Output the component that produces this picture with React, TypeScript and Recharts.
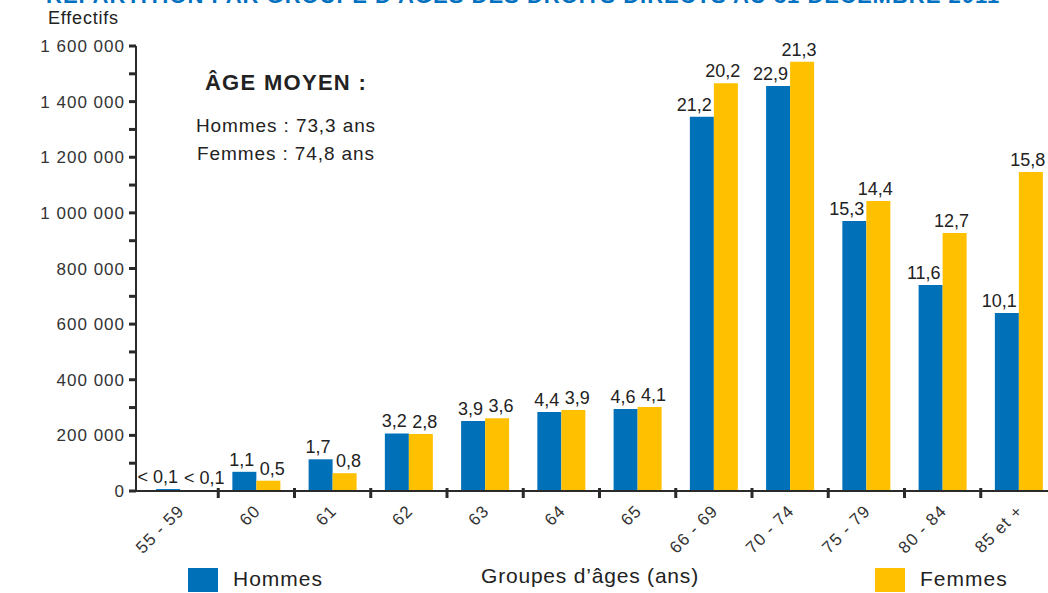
import React from 'react';
import { BarChart, Bar, XAxis, YAxis, LabelList } from 'recharts';

const categories = ['55 - 59', '60', '61', '62', '63', '64', '65', '66 - 69', '70 - 74', '75 - 79', '80 - 84', '85 et +'];
const hommes = [7000, 69000, 114000, 207000, 252000, 284000, 295000, 1346000, 1456000, 971000, 741000, 640000];
const femmes = [3000, 37000, 64000, 205000, 262000, 291000, 302000, 1466000, 1543000, 1043000, 928000, 1147000];
const hommesPct = ['< 0,1', '1,1', '1,7', '3,2', '3,9', '4,4', '4,6', '21,2', '22,9', '15,3', '11,6', '10,1'];
const femmesPct = ['< 0,1', '0,5', '0,8', '2,8', '3,6', '3,9', '4,1', '20,2', '21,3', '14,4', '12,7', '15,8'];
const yTicks = [0, 100000, 200000, 300000, 400000, 500000, 600000, 700000, 800000, 900000, 1000000, 1100000, 1200000, 1300000, 1400000, 1500000, 1600000];

const BLUE = '#0070b8';
const YELLOW = '#ffc000';
const AXIS = '#2a2a2a';
const FONT = '"Liberation Sans", Arial, sans-serif';

const CHART_W = 1060;
const Y_W = 136;
const RIGHT = 3;
const PAD_LEFT = 6;
const BAND = (CHART_W - Y_W - RIGHT - PAD_LEFT) / categories.length;

const data = categories.map((c, i) => ({
  name: c,
  hommes: hommes[i],
  femmes: femmes[i],
  hLabel: hommesPct[i],
  fLabel: femmesPct[i],
}));

const fmt = (v: number) => {
  if (v % 200000 !== 0) return '';
  return String(v).replace(/\B(?=(\d{3})+(?!\d))/g, ' ');
};

const XTick = (props: any) => {
  const { x, y, payload, index } = props;
  return (
    <g>
      {index < categories.length - 1 && (
        <line x1={x + BAND / 2} x2={x + BAND / 2} y1={y - 3} y2={y + 7} stroke={AXIS} strokeWidth={3} />
      )}
      <text
        x={x + 5}
        y={y + 21}
        textAnchor="end"
        transform={`rotate(-45 ${x + 5} ${y + 21})`}
        fontSize={17}
        letterSpacing={1}
        fill="#333"
        fontFamily={FONT}
      >
        {payload.value}
      </text>
    </g>
  );
};

const labelStyle = { fontSize: 18, fill: '#222', fontFamily: FONT };

// hommes labels sit flush with the right edge of their bar
const HommesLabel = (props: any) => {
  const { x, y, width, value } = props;
  return (
    <text x={x + width - 2} y={y - 6} textAnchor="end" {...labelStyle}>
      {value}
    </text>
  );
};

// femmes labels: roughly centred, nudged like in the original layout
const FemmesLabel = (props: any) => {
  const { x, y, width, value } = props;
  const s = String(value);
  if (s.startsWith('<')) {
    return (
      <text x={x + 4} y={y - 6} textAnchor="start" {...labelStyle}>
        {s}
      </text>
    );
  }
  const dx = s.length > 3 ? -3 : 4;
  return (
    <text x={x + width / 2 + dx} y={y - 6} textAnchor="middle" {...labelStyle}>
      {s}
    </text>
  );
};

export default function App() {
  return (
    <div style={{ position: 'fixed', left: 0, top: 0, width: 1048, height: 593, overflow: 'hidden', background: '#fff', fontFamily: FONT }}>
      <div style={{ position: 'absolute', left: 46, top: -17, whiteSpace: 'nowrap', color: '#0070c0', fontWeight: 'bold', fontSize: 22, letterSpacing: 1 }}>
        RÉPARTITION PAR GROUPE D'ÂGES DES DROITS DIRECTS AU 31 DÉCEMBRE 2011
      </div>
      <div style={{ position: 'absolute', left: 48, top: 8, fontSize: 18, letterSpacing: 0.8, color: '#222' }}>Effectifs</div>

      <div style={{ position: 'absolute', left: 0, top: 0 }}>
        <BarChart
          width={CHART_W}
          height={593}
          data={data}
          margin={{ top: 46, right: RIGHT, bottom: 0, left: 0 }}
          barCategoryGap="18.5%"
          barGap={0}
        >
          <YAxis
            width={Y_W}
            domain={[0, 1600000]}
            ticks={yTicks}
            interval={0}
            tickFormatter={fmt}
            axisLine={{ stroke: AXIS, strokeWidth: 2 }}
            tickLine={{ stroke: AXIS, strokeWidth: 3 }}
            tickSize={7}
            tickMargin={4}
            tick={{ fontSize: 17, fill: '#333', fontFamily: FONT, letterSpacing: 1 }}
          />
          <XAxis
            dataKey="name"
            height={102}
            interval={0}
            padding={{ left: PAD_LEFT, right: 0 }}
            axisLine={{ stroke: AXIS, strokeWidth: 2 }}
            tickLine={false}
            tickSize={0}
            tickMargin={0}
            tick={<XTick />}
          />
          <Bar dataKey="hommes" fill={BLUE} isAnimationActive={false}>
            <LabelList dataKey="hLabel" content={<HommesLabel />} />
          </Bar>
          <Bar dataKey="femmes" fill={YELLOW} isAnimationActive={false}>
            <LabelList dataKey="fLabel" content={<FemmesLabel />} />
          </Bar>
        </BarChart>
      </div>

      <div style={{ position: 'absolute', left: 170, top: 70, width: 232, textAlign: 'center', color: '#222' }}>
        <div style={{ fontWeight: 'bold', fontSize: 22, letterSpacing: 1.3, marginBottom: 16 }}>ÂGE MOYEN :</div>
        <div style={{ fontSize: 19, letterSpacing: 0.9, lineHeight: '28px' }}>Hommes : 73,3 ans</div>
        <div style={{ fontSize: 19, letterSpacing: 0.9, lineHeight: '28px' }}>Femmes : 74,8 ans</div>
      </div>

      <div style={{ position: 'absolute', left: 188, top: 568, width: 30, height: 24, background: BLUE }} />
      <div style={{ position: 'absolute', left: 233, top: 567, fontSize: 21, letterSpacing: 1, color: '#222' }}>Hommes</div>
      <div style={{ position: 'absolute', left: 481, top: 564, fontSize: 21, letterSpacing: 0.8, color: '#222' }}>Groupes d’âges (ans)</div>
      <div style={{ position: 'absolute', left: 875, top: 568, width: 30, height: 24, background: YELLOW }} />
      <div style={{ position: 'absolute', left: 920, top: 567, fontSize: 21, letterSpacing: 1, color: '#222' }}>Femmes</div>
    </div>
  );
}
